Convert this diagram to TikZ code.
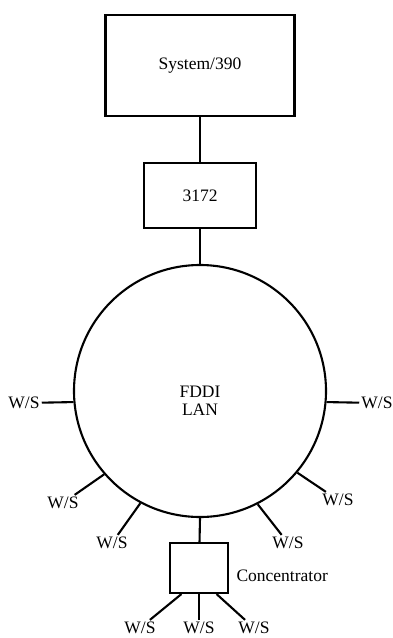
\documentclass[tikz,border=0pt]{standalone}
\usepackage{fontspec}
\setmainfont{Liberation Serif}
\usepackage{tikz}
\usetikzlibrary{positioning}

\begin{document}
\begin{tikzpicture}[
    x=1pt, y=-1pt,
    font=\fontsize{17.5}{18}\selectfont,
    unit/.style={draw, line width=2.1pt, inner sep=0pt},
    link/.style={line width=2.1pt},
    ws/.style={inner sep=2pt},
  ]

  \useasboundingbox (0,0) rectangle (392,638);

  % ---------- host side: System/390 and the 3172 controller ----------
  \node[unit, minimum width=189pt, minimum height=101pt] (sys) at (200,65.5) {System/390};
  \node[unit, minimum width=112pt, minimum height=65pt] (ctrl) at (200,195.5) {3172};

  % ---------- the ring ----------
  \node[draw, circle, line width=2.1pt, minimum size=252pt, inner sep=0pt] (lan) at (200,391) {};
  \node[align=center] (lantxt) at (200,401) {FDDI\\LAN};

  \draw[link] (sys) -- (ctrl);
  \draw[link] (ctrl) -- (lan);

  % ---------- work stations on the ring ----------
  \node[ws] (wsL) at (24,403) {W/S};
  \node[ws] (wsR) at (377,403) {W/S};
  \node[ws] (wsA) at (63,503) {W/S};
  \node[ws] (wsB) at (112,543) {W/S};
  \node[ws] (wsC) at (338,500) {W/S};
  \node[ws] (wsD) at (288,543) {W/S};

  \draw[link] (lan.185) -- (wsL);
  \draw[link] (lan.355) -- (wsR);
  \draw[link] (lan.221) -- (wsA);
  \draw[link] (lan.242) -- (wsB);
  \draw[link] (lan.320) -- (wsC);
  \draw[link] (lan.297) -- (wsD);

  % ---------- concentrator and its stations ----------
  \node[unit, minimum width=58pt, minimum height=50pt] (conc) at (199,568) {};
  \node[anchor=west] (conclbl) at (233,576) {Concentrator};
  \draw[link] (lan.270) -- (conc);

  \node[ws] (wsE) at (140,628) {W/S};
  \node[ws] (wsF) at (199,628) {W/S};
  \node[ws] (wsG) at (254,628) {W/S};

  \draw[link] (conc.236) -- (wsE);
  \draw[link] (conc) -- (wsF);
  \draw[link] (conc.304) -- (wsG);

\end{tikzpicture}
\end{document}
